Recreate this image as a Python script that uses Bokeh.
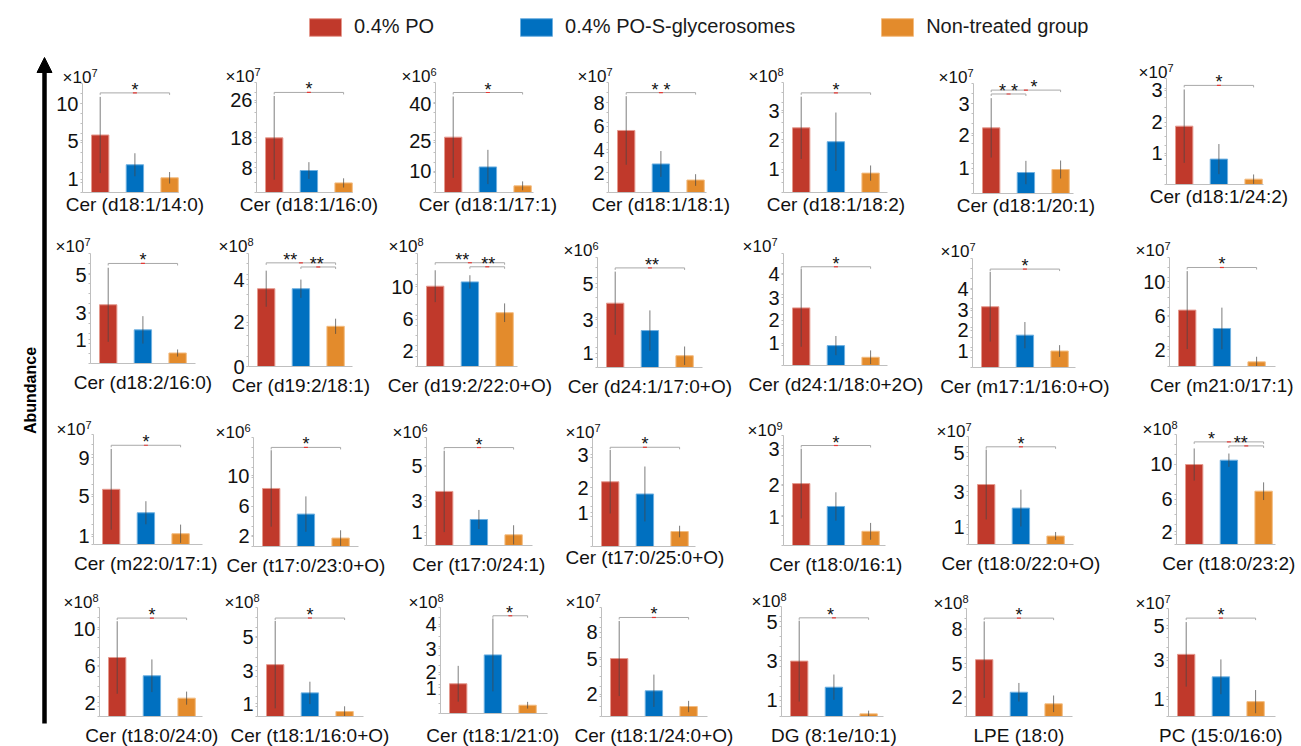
import numpy as np
from math import pi
from bokeh.plotting import figure
from bokeh.models import (Range1d, FixedTicker, CustomJSTickFormatter, Label, LabelSet,
                          ColumnDataSource, Legend, LegendItem, Arrow, NormalHead, LinearAxis)
from bokeh.embed import file_html
from bokeh.resources import INLINE
from bokeh.core.properties import value

FONT = "Liberation Sans"

# ---------------- data ----------------
groups = ["0.4% PO", "0.4% PO-S-glycerosomes", "Non-treated group"]
colors = ["#C0392B", "#0070C0", "#E38B2C"]
edges = ["#E59A8F", "#6FB0E0", "#F3BC80"]

lipids = ["Cer (d18:1/14:0)", "Cer (d18:1/16:0)", "Cer (d18:1/17:1)", "Cer (d18:1/18:1)",
          "Cer (d18:1/18:2)", "Cer (d18:1/20:1)", "Cer (d18:1/24:2)",
          "Cer (d18:2/16:0)", "Cer (d19:2/18:1)", "Cer (d19:2/22:0+O)", "Cer (d24:1/17:0+O)",
          "Cer (d24:1/18:0+2O)", "Cer (m17:1/16:0+O)", "Cer (m21:0/17:1)",
          "Cer (m22:0/17:1)", "Cer (t17:0/23:0+O)", "Cer (t17:0/24:1)", "Cer (t17:0/25:0+O)",
          "Cer (t18:0/16:1)", "Cer (t18:0/22:0+O)", "Cer (t18:0/23:2)",
          "Cer (t18:0/24:0)", "Cer (t18:1/16:0+O)", "Cer (t18:1/21:0)", "Cer (t18:1/24:0+O)",
          "DG (8:1e/10:1)", "LPE (18:0)", "PC (15:0/16:0)"]

exponents = [7, 7, 6, 7, 8, 7, 7,
             7, 8, 8, 6, 7, 7, 7,
             7, 6, 6, 7, 9, 7, 8,
             8, 8, 8, 7, 8, 8, 7]

po_mean = [6.49, 15.4, 24.9, 5.52, 2.37, 2.19, 1.86,
           3.30, 3.58, 10.09, 3.83, 2.52, 3.10, 6.66,
           5.74, 8.2, 3.39, 2.12, 1.92, 3.26, 9.96,
           6.75, 3.25, 1.33, 5.52, 2.93, 5.2, 3.43]
po_err = [4.3, 11.8, 18.3, 3.05, 1.14, 0.99, 1.17,
          2.08, 0.83, 2.0, 1.88, 1.7, 1.78, 4.6,
          4.2, 5.4, 2.55, 1.04, 1.08, 1.9, 2.0,
          4.15, 2.74, 0.8, 3.57, 2.14, 3.5, 1.78]
gly_mean = [3.13, 6.2, 11.5, 2.54, 1.86, 0.70, 0.81,
            1.89, 3.58, 10.63, 2.2, 0.87, 1.65, 4.49,
            3.3, 4.58, 1.63, 1.72, 1.21, 1.98, 10.5,
            4.66, 1.48, 2.62, 2.45, 1.55, 2.22, 2.19]
gly_err = [1.3, 2.35, 7.7, 1.15, 1.07, 0.39, 0.48,
           0.77, 0.42, 0.84, 1.2, 0.42, 0.67, 2.46,
           1.2, 2.5, 0.6, 0.9, 0.44, 1.0, 0.83,
           1.87, 0.7, 1.63, 1.54, 0.67, 0.85, 0.96]
ctrl_mean = [1.66, 2.7, 3.0, 1.11, 0.71, 0.80, 0.17,
             0.59, 1.85, 6.76, 0.7, 0.36, 0.84, 0.55,
             1.12, 1.19, 0.67, 0.49, 0.44, 0.46, 6.64,
             2.1, 0.31, 0.37, 0.95, 0.14, 1.16, 0.82]
ctrl_err = [0.65, 1.3, 2.0, 0.52, 0.28, 0.3, 0.15,
            0.2, 0.35, 1.17, 0.55, 0.3, 0.3, 0.6,
            0.95, 1.1, 0.6, 0.19, 0.26, 0.22, 1.1,
            0.75, 0.33, 0.15, 0.54, 0.17, 0.76, 0.64]

# tick labels as printed, and where each label sits on the panel's axis
tick_labels = [["1", "5", "10"], ["8", "18", "26"], ["10", "25", "40"], ["2", "4", "6", "8"],
               ["1", "2", "3"], ["1", "2", "3"], ["1", "2", "3"],
               ["1", "3", "5"], ["0", "2", "4"], ["2", "6", "10"], ["1", "3", "5"],
               ["1", "2", "3", "4"], ["1", "2", "3", "4"], ["2", "6", "10"],
               ["1", "5", "9"], ["2", "6", "10"], ["1", "3", "5"], ["1", "2", "3"],
               ["1", "2", "3"], ["1", "3", "5"], ["2", "6", "10"],
               ["2", "6", "10"], ["1", "3", "5"], ["1", "2", "3", "4"], ["2", "5", "8"],
               ["1", "3", "5"], ["2", "5", "8"], ["1", "3", "5"]]
tick_values = [[1.52, 5.85, 10], [7.04, 15.5, 26], [9.5, 23.4, 40], [1.74, 3.79, 5.88, 8],
               [0.86, 1.93, 3], [0.85, 1.94, 3], [0.99, 1.99, 3],
               [1.34, 2.85, 5], [0, 2.04, 4], [1.99, 5.91, 10], [0.84, 2.84, 5],
               [0.97, 1.97, 2.96, 4], [0.85, 1.91, 2.93, 4], [1.97, 5.99, 10],
               [0.87, 5.0, 9], [1.51, 5.66, 10], [0.83, 2.81, 5], [1.11, 1.93, 3],
               [0.89, 1.89, 3], [0.95, 2.88, 5], [1.57, 5.64, 10],
               [1.6, 5.8, 10], [0.79, 2.88, 5], [1.16, 1.85, 2.89, 4], [2.13, 5.47, 8],
               [0.85, 2.96, 5], [1.76, 4.81, 8], [0.95, 3.1, 5]]
axis_top = [12.3, 31.0, 49.5, 9.79, 4.03, 3.67, 3.38,
            6.18, 5.2, 14.2, 6.55, 4.9, 5.56, 12.87,
            11.44, 15.4, 6.77, 3.57, 3.41, 5.87, 13.7,
            12.47, 6.83, 4.74, 10.38, 5.82, 9.88, 5.96]

# significance brackets (group numbers 1..3)
sig_panel = [0, 1, 2, 3, 4, 5, 5, 6, 7, 8, 8, 9, 9, 10, 11, 12, 13, 14, 15, 16,
             17, 18, 19, 20, 20, 21, 22, 23, 24, 25, 26, 27]
sig_from = [1, 1, 1, 1, 1, 1, 1, 1, 1, 1, 2, 1, 2, 1, 1, 1, 1, 1, 1, 1,
            1, 1, 1, 1, 2, 1, 1, 2, 1, 1, 1, 1]
sig_to = [3, 3, 3, 3, 3, 2, 3, 3, 3, 3, 3, 3, 3, 3, 3, 3, 3, 3, 3, 3,
          3, 3, 3, 3, 3, 3, 3, 3, 3, 3, 3, 3]
sig_height = [11.24, 28.2, 45, 8.89, 3.65, 3.32, 3.45, 3.16, 5.62, 4.77, 4.58, 13.04, 12.53,
              5.93, 4.32, 5.02, 11.69, 10.32, 14.0, 6.14, 3.25, 3.1, 5.31, 12.78, 12.28,
              11.26, 6.17, 4.37, 9.43, 5.22, 9.0, 5.43]
sig_text = ["*", "*", "*", "* *", "*", "* *", "*", "*", "*", "**", "**", "**", "**", "**",
            "*", "*", "*", "*", "*", "*", "*", "*", "*", "*", "**", "*", "*", "*", "*",
            "*", "*", "*"]
sig_star_x = [2, 2, 2, 2, 2, 1.5, 2.23, 2, 2, 1.69, 2.46, 1.78, 2.53, 2.06, 2, 2, 2, 2, 2,
              2, 2, 2, 2, 1.5, 2.34, 2, 2, 2.48, 2, 1.9, 2, 2]

# ---------------- layout (page pixels) ----------------
W_PAGE, H_PAGE = 1300, 746
# per panel: y-axis x, baseline right end, axis top y, baseline y
GEOM = [(82, 178, 83, 192), (256, 352, 82, 192), (435, 533, 82, 192), (608, 706, 82, 192),
        (783, 887, 82, 192), (973, 1073, 83, 193), (1166, 1263, 78, 184),
        (90, 195, 253, 363), (248, 352, 253, 366), (417, 517, 253, 366), (597, 702, 257, 367),
        (783, 887, 253, 365), (972, 1075, 258, 367), (1169, 1275, 257, 366),
        (93, 202, 434, 544), (253, 358, 437, 546), (426, 532, 437, 545), (592, 695, 437, 546),
        (783, 885, 435, 545), (968, 1073, 436, 544), (1176, 1275, 434, 544),
        (99, 202, 607, 716), (257, 363, 607, 716), (440, 547, 607, 713), (601, 707, 607, 716),
        (781, 883, 606, 716), (966, 1072, 608, 716), (1168, 1275, 608, 716)]
MULT_DX = [-20, -31, -34, -31, -35, -35, -28,
           -35, -30, -29, -34, -41, -32, -34,
           -37, -38, -34, -27, -36, -32, -34,
           -36, -33, -32, -36, -30, -33, -33]
ROW_MULT_DY = [6, 7, 5, 5]
LABEL_STANDOFF = [1, 1, 1, 1, 1, 1, 1,
                  8, 8, 8, 8, 8, 8, 8,
                  8, 8, 8, 0, 8, 8, 8,
                  8, 8, 11, 8, 8, 8, 8]
X_START = 0.49
PX_PER_CAT = 34.7
AXIS_GREY = "#BFBFBF"

p = figure(width=W_PAGE, height=H_PAGE, x_range=Range1d(0, W_PAGE), y_range=Range1d(0, H_PAGE),
           x_axis_location=None, y_axis_location=None,
           min_border_left=0, min_border_right=0, min_border_top=0, min_border_bottom=0,
           output_backend="svg", toolbar_location=None)
p.outline_line_color = None
p.background_fill_color = "white"
p.border_fill_color = "white"
p.xgrid.visible = False
p.ygrid.visible = False
p.grid.grid_line_color = None

bar_renderers = []
for i in range(28):
    r = i // 7
    ax, rt, top, base = GEOM[i]
    ytop = axis_top[i]
    ppu = (base - top) / ytop
    xn, yn = "x%d" % i, "y%d" % i
    p.extra_x_ranges[xn] = Range1d(X_START - ax / PX_PER_CAT, X_START + (W_PAGE - ax) / PX_PER_CAT)
    p.extra_y_ranges[yn] = Range1d(-(H_PAGE - base) / ppu, ytop + top / ppu)
    x_right = X_START + (rt - ax) / PX_PER_CAT
    kw = dict(x_range_name=xn, y_range_name=yn)

    means = [po_mean[i], gly_mean[i], ctrl_mean[i]]
    errs = [po_err[i], gly_err[i], ctrl_err[i]]
    src = ColumnDataSource(dict(
        x=[1, 2, 3], top=means,
        lo=[max(0.0, m - e) for m, e in zip(means, errs)],
        hi=[m + e for m, e in zip(means, errs)],
        color=colors, edge=edges))
    br = p.vbar(x="x", top="top", width=0.5, source=src, fill_color="color",
                line_color="edge", line_width=1, **kw)
    bar_renderers.append(br)
    p.segment(x0="x", y0="lo", x1="x", y1="hi", source=src,
              line_color="#444444", line_width=1, line_alpha=0.7, **kw)

    # significance brackets
    idx = [k for k, pn in enumerate(sig_panel) if pn == i]
    a = [sig_from[k] for k in idx]
    b = [sig_to[k] for k in idx]
    h = [sig_height[k] for k in idx]
    tick = 2.0 / ppu
    p.segment(x0=a, y0=h, x1=b, y1=h, line_color="#A8A8A8", line_width=1, **kw)
    p.segment(x0=a + b, y0=h + h, x1=a + b, y1=[v - tick for v in h + h],
              line_color="#A8A8A8", line_width=1, **kw)
    p.scatter(x=[(u + v) / 2 for u, v in zip(a, b)], y=h, marker="dash", size=4,
              line_color="#E53935", line_width=1.2, **kw)
    ssrc = ColumnDataSource(dict(x=[sig_star_x[k] for k in idx], y=h,
                                 t=[sig_text[k] for k in idx]))
    p.add_layout(LabelSet(x="x", y="y", text="t", source=ssrc, text_align="center",
                          text_baseline="middle", y_offset=3,
                          text_font=value(FONT), text_font_size=value("18px"),
                          text_color="#111111", **kw))

    # y axis, drawn at the first category edge and only over the data span
    minors = list(np.linspace(0, ytop, 12))
    yax = LinearAxis(fixed_location=X_START, bounds=(0, ytop),
                     ticker=FixedTicker(ticks=tick_values[i], minor_ticks=minors),
                     formatter=CustomJSTickFormatter(
                         args=dict(vals=tick_values[i], labels=tick_labels[i]),
                         code="let k=0, best=1e9; for (let j=0;j<vals.length;j++){const d=Math.abs(vals[j]-tick); if(d<best){best=d;k=j;}} return labels[k];"),
                     axis_line_color=AXIS_GREY, major_tick_line_color=AXIS_GREY,
                     minor_tick_line_color=AXIS_GREY, major_tick_out=2, major_tick_in=0,
                     minor_tick_out=2, minor_tick_in=0, major_label_standoff=2,
                     major_label_text_font=FONT, major_label_text_font_size="20px",
                     major_label_text_color="#111111", **kw)
    p.add_layout(yax, "left")

    # x axis at zero: the lipid name as the label of the middle group
    xax = LinearAxis(fixed_location=0, bounds=(X_START, x_right),
                     ticker=FixedTicker(ticks=[2]),
                     formatter=CustomJSTickFormatter(args=dict(name=lipids[i]), code="return name;"),
                     axis_line_color=AXIS_GREY, major_tick_line_color=None,
                     minor_tick_line_color=None, major_tick_out=0, major_tick_in=0,
                     minor_tick_out=0, major_label_standoff=LABEL_STANDOFF[i],
                     major_label_text_font=FONT, major_label_text_font_size="19px",
                     major_label_text_color="#111111", **kw)
    p.add_layout(xax, "below")

    # multiplier  x10^n
    p.add_layout(Label(x=X_START, y=ytop, x_offset=MULT_DX[i], y_offset=ROW_MULT_DY[r],
                       text="×10", text_font=FONT, text_font_size="17px",
                       text_baseline="alphabetic", text_align="left", text_color="#111111", **kw))
    p.add_layout(Label(x=X_START, y=ytop, x_offset=MULT_DX[i] + 29,
                       y_offset=ROW_MULT_DY[r] + 5, text=str(exponents[i]),
                       text_font=FONT, text_font_size="11px",
                       text_baseline="alphabetic", text_align="left", text_color="#111111", **kw))

# ---------------- left arrow with "Abundance" ----------------
p.add_layout(Arrow(end=NormalHead(size=15, fill_color="black", line_color="black"),
                   x_start=44, y_start=H_PAGE - 723, x_end=44, y_end=H_PAGE - 57,
                   line_width=4.5, line_color="black"))
p.add_layout(Label(x=30, y=H_PAGE - 390, text="Abundance", angle=pi / 2, text_align="center",
                   text_baseline="middle", text_font=FONT, text_font_size="16px",
                   text_font_style="bold", text_color="black"))

# ---------------- legend ----------------
items = [LegendItem(label=g, renderers=[bar_renderers[0]], index=k)
         for k, g in enumerate(groups)]
legend = Legend(items=items, orientation="horizontal", location=(305, H_PAGE - 38),
                glyph_width=40, glyph_height=22, spacing=82, label_standoff=9,
                label_text_font=FONT, label_text_font_size="20px", label_text_color="#1a1a1a",
                padding=0, margin=0, border_line_alpha=0, background_fill_alpha=0)
p.add_layout(legend)

open("out.html", "w").write(file_html(p, INLINE))
